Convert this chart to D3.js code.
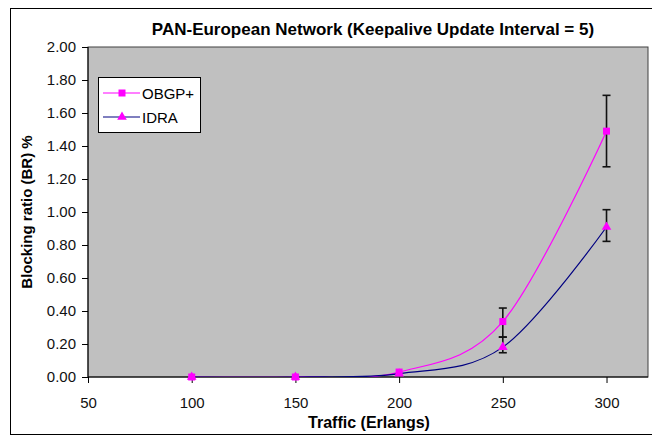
<!DOCTYPE html>
<html><head><meta charset="utf-8">
<script src="https://cdn.jsdelivr.net/npm/d3@7"></script>
<style>body{margin:0;background:#fff}svg{display:block;font-family:Arial,"Liberation Sans",sans-serif}</style>
</head><body>
<svg id="c" width="652" height="436"></svg>
<script>
const traffic = [100, 150, 200, 250, 300];
const obgpValues = [0, 0, 0.03, 0.336, 1.49];
const obgpErrLow = [null, null, null, 0.242, 1.274];
const obgpErrHigh = [null, null, null, 0.418, 1.707];
const idraValues = [0, 0, 0.02, 0.181, 0.909];
const idraErrLow = [null, null, null, 0.147, 0.822];
const idraErrHigh = [null, null, null, 0.242, 1.014];
const xTicks = [50, 100, 150, 200, 250, 300];
const yTicks = [0, 0.2, 0.4, 0.6, 0.8, 1.0, 1.2, 1.4, 1.6, 1.8, 2.0];
const seriesNames = ["OBGP+", "IDRA"];

const svg = d3.select("#c");
const L = 88, R = 648, T = 47, B = 377;
const x = d3.scaleLinear().domain([50, 320]).range([L, R]);
const y = d3.scaleLinear().domain([0, 2]).range([B, T]);

// outer chart border
svg.append("rect").attr("x", 10.5).attr("y", 8.5).attr("width", 700).attr("height", 426)
  .attr("fill", "#fff").attr("stroke", "#000").attr("stroke-width", 1);

// plot area
svg.append("rect").attr("x", L).attr("y", T).attr("width", R - L).attr("height", B - T)
  .attr("fill", "#c0c0c0").attr("stroke", "#404040").attr("stroke-width", 1);

svg.append("defs").append("clipPath").attr("id", "clip")
  .append("rect").attr("x", L).attr("y", T - 1).attr("width", R - L).attr("height", B - T + 1);

// title
svg.append("text").attr("x", 373).attr("y", 35).attr("text-anchor", "middle")
  .attr("font-weight", "bold").attr("font-size", 17).text("PAN-European Network (Keepalive Update Interval = 5)");

// axes
const yAxis = d3.axisLeft(y).tickValues(yTicks).tickFormat(d3.format(".2f")).tickSize(6).tickPadding(6);
const gy = svg.append("g").attr("transform", `translate(${L},0)`).call(yAxis);
const xAxis = d3.axisBottom(x).tickValues(xTicks).tickFormat(d3.format("d")).tickSize(6).tickPadding(12);
const gx = svg.append("g").attr("transform", `translate(0,${B})`).call(xAxis);
[gy, gx].forEach(g => {
  g.selectAll("path").attr("stroke", "#000");
  g.selectAll("line").attr("stroke", "#000");
  g.selectAll("text").attr("font-size", 15).attr("fill", "#111").attr("font-family", "Arial, 'Liberation Sans', sans-serif");
});
gx.selectAll(".tick text").attr("dy", null).attr("y", 30.5);
gy.select(".domain").attr("d", `M0,${T}V${B}`);
gx.select(".domain").attr("d", `M${L},0H${R}`);

// axis titles
svg.append("text").attr("transform", "translate(32,212) rotate(-90)").attr("text-anchor", "middle")
  .attr("font-weight", "bold").attr("font-size", 15).text("Blocking ratio (BR) %");
svg.append("text").attr("x", 369).attr("y", 428).attr("text-anchor", "middle")
  .attr("font-weight", "bold").attr("font-size", 16).text("Traffic (Erlangs)");

const line = d3.line().x((d, i) => x(traffic[i])).y(d => y(d)).curve(d3.curveCardinal.tension(0));
const plot = svg.append("g").attr("clip-path", "url(#clip)");

const series = [
  {vals: obgpValues, lo: obgpErrLow, hi: obgpErrHigh, color: "#ff00ff", marker: "square"},
  {vals: idraValues, lo: idraErrLow, hi: idraErrHigh, color: "#000080", marker: "triangle"}
];

// lines
series.forEach(s => {
  plot.append("path").attr("d", line(s.vals)).attr("fill", "none").attr("stroke", s.color).attr("stroke-width", 1.2);
});
// error bars
series.forEach(s => {
  traffic.forEach((t, i) => {
    if (s.lo[i] == null) return;
    const g = svg.append("g").attr("stroke", "#111").attr("stroke-width", 1.6);
    g.append("line").attr("x1", x(t)).attr("x2", x(t)).attr("y1", y(s.lo[i])).attr("y2", y(s.hi[i]));
    g.append("line").attr("x1", x(t) - 4).attr("x2", x(t) + 4).attr("y1", y(s.lo[i])).attr("y2", y(s.lo[i]));
    g.append("line").attr("x1", x(t) - 4).attr("x2", x(t) + 4).attr("y1", y(s.hi[i])).attr("y2", y(s.hi[i]));
  });
});
// markers
const sq = d3.symbol().type(d3.symbolSquare).size(49);
const tri = d3.symbol().type(d3.symbolTriangle).size(40);
series.forEach(s => {
  traffic.forEach((t, i) => {
    svg.append("path").attr("d", s.marker === "square" ? sq() : tri())
      .attr("transform", `translate(${x(t)},${y(s.vals[i])})`).attr("fill", "#ff00ff");
  });
});

// legend
const lg = svg.append("g");
lg.append("rect").attr("x", 98.5).attr("y", 77.5).attr("width", 102).attr("height", 55)
  .attr("fill", "#fff").attr("stroke", "#000");
series.forEach((s, i) => {
  const yy = 93 + i * 24;
  lg.append("line").attr("x1", 103).attr("x2", 140).attr("y1", yy).attr("y2", yy).attr("stroke", s.color).attr("stroke-width", 1.2);
  lg.append("path").attr("d", s.marker === "square" ? sq() : tri()).attr("transform", `translate(122,${yy})`).attr("fill", "#ff00ff");
  lg.append("text").attr("x", 142).attr("y", yy + 5.5).attr("font-size", 15).text(seriesNames[i]);
});
</script>
</body></html>
